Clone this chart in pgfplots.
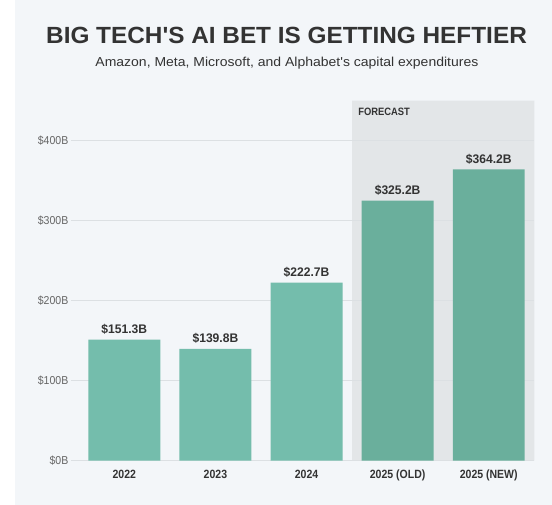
\documentclass[border=0pt]{standalone}
\usepackage{pgfplots}
\pgfplotsset{compat=1.18}
\usepackage{fontspec}
\setmainfont{Liberation Sans}
\newfontfamily\titlefont[FakeStretch=1.04]{Liberation Sans}
\newfontfamily\subfont[FakeStretch=1.08]{Liberation Sans}
\newfontfamily\condfont[FakeStretch=0.88]{Liberation Sans}
\newfontfamily\tickfont[FakeStretch=0.92]{Liberation Sans}
\newfontfamily\valfont[FakeStretch=0.97]{Liberation Sans}

\definecolor{panel}{HTML}{F3F6F9}
\definecolor{bandc}{HTML}{E3E6E8}
\definecolor{gridc}{HTML}{DCE0E3}
\definecolor{histc}{HTML}{74BDAC}
\definecolor{forec}{HTML}{6AAF9C}
\definecolor{txt}{HTML}{333333}
\definecolor{tickc}{HTML}{666666}

\begin{document}
\begin{tikzpicture}
\fill[white] (0,0) rectangle (552bp,505bp);
\fill[panel] (15bp,0) rectangle (552bp,505bp);
\node[inner sep=0pt, anchor=center, text=txt,
      font=\titlefont\bfseries\fontsize{23.5}{28}\selectfont]
  at (286.5bp,469.3bp) {BIG TECH'S AI BET IS GETTING HEFTIER};
\node[inner sep=0pt, anchor=base, text=txt,
      font=\subfont\fontsize{13}{16}\selectfont]
  at (286.9bp,438.3bp) {Amazon, Meta, Microsoft, and Alphabet's capital expenditures};

\begin{axis}[
  at={(71bp,44.3bp)}, anchor=south west,
  scale only axis,
  width=463.3bp, height=360bp,
  xmin=-0.585, xmax=4.5,
  ymin=0, ymax=450,
  axis line style={draw=none},
  major tick length=0pt,
  xtick={0,1,2,3,4},
  xticklabels={2022,2023,2024,2025 (OLD),2025 (NEW)},
  ytick={0,100,200,300,400},
  yticklabel={\$\pgfmathprintnumber{\tick}B},
  /pgf/number format/assume math mode=true,
  yticklabel style={font=\tickfont\fontsize{11.5}{13}\selectfont, text=tickc,
    inner sep=0pt, anchor=east, xshift=-2.5bp},
  xticklabel style={font=\condfont\bfseries\fontsize{12}{14}\selectfont, text=txt,
    inner sep=0pt, anchor=north, yshift=-9.3bp},
  clip=false,
]
% forecast band
\addplot[fill=bandc, draw=none, forget plot]
  coordinates {(2.5,0) (2.5,450) (4.5,450) (4.5,0)} \closedcycle;
% grid lines
\pgfplotsinvokeforeach{0,100,200,300,400}{
  \draw[gridc, line width=1bp] (axis cs:-0.585,#1) -- (axis cs:4.5,#1);
}
\node[anchor=north west, inner sep=0pt, xshift=6bp, yshift=-7.6bp, text=txt,
      font=\condfont\bfseries\fontsize{10.7}{12}\selectfont]
  at (axis cs:2.5,450) {FORECAST};

\addplot[ybar, bar width=0.79, bar shift=0pt, fill=histc, draw=none,
  nodes near coords={\$\pgfmathprintnumber[fixed,fixed zerofill,precision=1]{\pgfplotspointmeta}B},
  every node near coord/.style={anchor=south, inner sep=0pt, yshift=5bp, text=txt,
    font=\valfont\bfseries\fontsize{12.5}{14}\selectfont}]
  coordinates {(0,151.3) (1,139.8) (2,222.7)};
\addplot[ybar, bar width=0.79, bar shift=0pt, fill=forec, draw=none,
  nodes near coords={\$\pgfmathprintnumber[fixed,fixed zerofill,precision=1]{\pgfplotspointmeta}B},
  every node near coord/.style={anchor=south, inner sep=0pt, yshift=5bp, text=txt,
    font=\valfont\bfseries\fontsize{12.5}{14}\selectfont}]
  coordinates {(3,325.2) (4,364.2)};
\end{axis}
\end{tikzpicture}
\end{document}
